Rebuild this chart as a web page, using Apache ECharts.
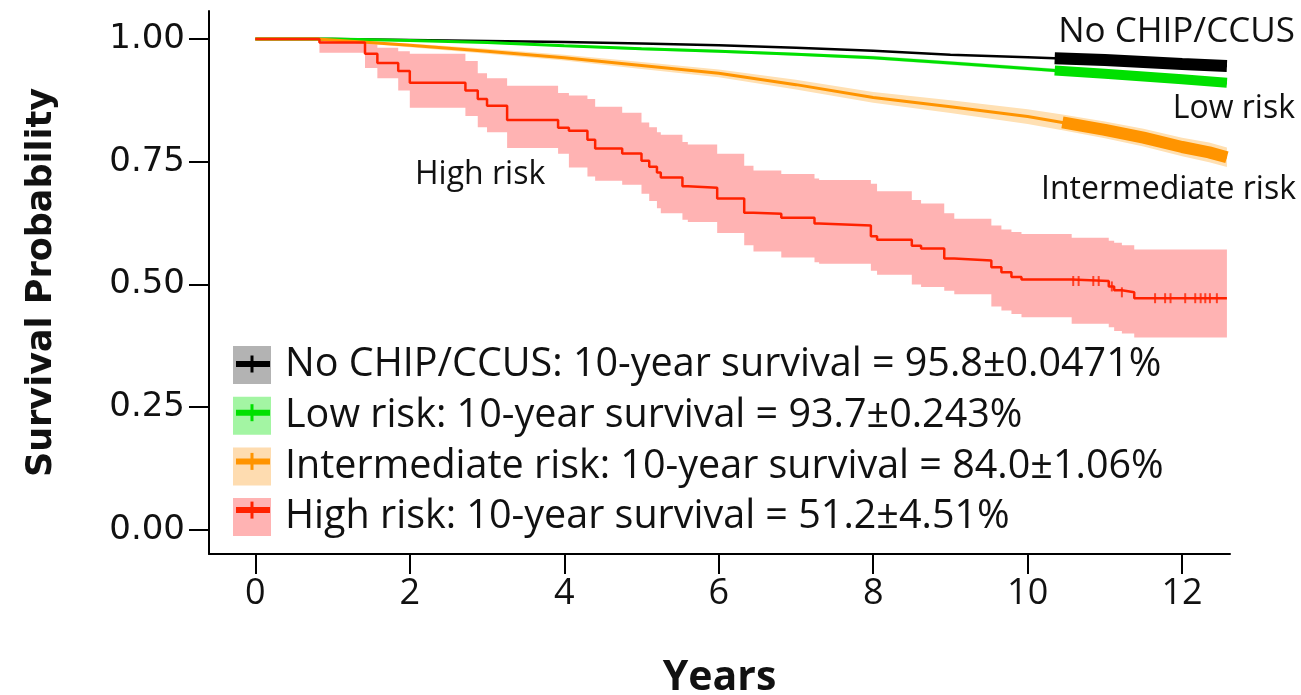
<!DOCTYPE html>
<html><head><meta charset="utf-8">
<script src="https://cdn.jsdelivr.net/npm/echarts@6/dist/echarts.min.js"></script>
<style>html,body{margin:0;padding:0;background:#fff}#c{width:1301px;height:695px}</style>
</head><body><div id="c"></div>
<script>
// ---- data ----
const xTicks = [0, 2, 4, 6, 8, 10, 12];
const yTicks = [0, 0.25, 0.5, 0.75, 1];
const yTickLabels = ['0.00', '0.25', '0.50', '0.75', '1.00'];
const legendNames = [
  'No CHIP/CCUS: 10-year survival = 95.8±0.0471%',
  'Low risk: 10-year survival = 93.7±0.243%',
  'Intermediate risk: 10-year survival = 84.0±1.06%',
  'High risk: 10-year survival = 51.2±4.51%'
];
const annotations = ['No CHIP/CCUS', 'Low risk', 'Intermediate risk', 'High risk'];

// No CHIP/CCUS
const noT = [0, 1, 2, 3, 4, 5, 6, 7, 8, 9, 10, 10.35, 11, 12, 12.58];
const noS = [1, 1, 0.998, 0.996, 0.994, 0.991, 0.987, 0.982, 0.976, 0.968, 0.963, 0.961, 0.957, 0.949, 0.945];
// Low risk
const lowT = [0, 1, 2, 3, 4, 5, 6, 7, 8, 9, 10, 10.35, 11, 12, 12.58];
const lowS = [1, 1, 0.997, 0.993, 0.986, 0.98, 0.975, 0.969, 0.962, 0.951, 0.94, 0.936, 0.929, 0.918, 0.911];
const lowLo = [1, 1, 0.996, 0.991, 0.984, 0.977, 0.972, 0.966, 0.958, 0.947, 0.936, 0.932, 0.925, 0.913, 0.906];
const lowHi = [1, 1, 0.998, 0.995, 0.988, 0.983, 0.978, 0.972, 0.966, 0.955, 0.944, 0.94, 0.933, 0.923, 0.916];
// Intermediate risk
const intT = [0, 0.8, 1, 2, 3, 4, 5, 6, 7, 8, 9, 10, 10.45, 11, 11.5, 12, 12.35, 12.58];
const intS = [1, 1, 0.998, 0.987, 0.975, 0.962, 0.946, 0.93, 0.907, 0.881, 0.862, 0.842, 0.83, 0.815, 0.799, 0.78, 0.769, 0.759];
const intLo = [1, 1, 0.996, 0.983, 0.97, 0.956, 0.939, 0.922, 0.897, 0.87, 0.849, 0.827, 0.814, 0.798, 0.781, 0.761, 0.749, 0.739];
const intHi = [1, 1, 1, 0.991, 0.98, 0.968, 0.953, 0.938, 0.917, 0.892, 0.875, 0.857, 0.846, 0.832, 0.817, 0.799, 0.789, 0.779];
// High risk (Kaplan-Meier steps)
const hiT = [0, 0.83, 1.42, 1.58, 1.85, 2.0, 2.72, 2.88, 3.0, 3.26, 3.92, 4.06, 4.3, 4.4, 4.75, 5.0, 5.1, 5.2, 5.25, 5.53, 5.6, 5.98, 6.33, 6.45, 6.81, 7.24, 7.3, 7.97, 8.05, 8.5, 8.62, 8.92, 9.05, 9.53, 9.66, 9.79, 9.92, 10.57, 11.05, 11.12, 11.22, 11.38, 12.58];
const hiS = [1, 0.993, 0.97, 0.951, 0.935, 0.911, 0.895, 0.878, 0.864, 0.835, 0.819, 0.813, 0.795, 0.777, 0.767, 0.752, 0.74, 0.728, 0.718, 0.70, 0.697, 0.675, 0.646, 0.644, 0.636, 0.624, 0.62, 0.598, 0.591, 0.579, 0.573, 0.553, 0.549, 0.535, 0.525, 0.515, 0.51, 0.507, 0.496, 0.488, 0.484, 0.472, 0.472];
const hiHi = [1, 1.0, 0.99, 0.982, 0.975, 0.97, 0.955, 0.93, 0.92, 0.905, 0.89, 0.885, 0.878, 0.862, 0.85, 0.83, 0.82, 0.81, 0.805, 0.79, 0.785, 0.766, 0.742, 0.732, 0.725, 0.716, 0.713, 0.705, 0.69, 0.672, 0.665, 0.645, 0.634, 0.62, 0.612, 0.607, 0.603, 0.595, 0.589, 0.585, 0.58, 0.571, 0.571];
const hiLo = [1, 0.972, 0.941, 0.92, 0.895, 0.86, 0.843, 0.82, 0.81, 0.778, 0.766, 0.738, 0.72, 0.711, 0.703, 0.685, 0.67, 0.655, 0.645, 0.632, 0.627, 0.605, 0.58, 0.567, 0.555, 0.545, 0.542, 0.528, 0.52, 0.5, 0.495, 0.487, 0.48, 0.455, 0.447, 0.44, 0.433, 0.42, 0.413, 0.405, 0.40, 0.392, 0.392];
const hiCensorT = [10.59, 10.66, 10.85, 10.92, 11.09, 11.22, 11.65, 11.78, 11.85, 12.04, 12.17, 12.24, 12.3, 12.36, 12.45];
// start of the densely censored stretch at the end of the follow-up
const denseStart = [10.35, 10.35, 10.45];

// ---- styles ----
const colors = ['#000000', '#00e000', '#ff9400', '#ff2200'];
const boxColors = ['#b3b3b3', '#a3f5a3', '#fedcb0', '#ffb3b3'];
const bandColors = ['#cccccc', '#b8f7b8', '#ffe0b3', '#ffb3b3'];
const G = {left: 209, right: 71, top: 11, bottom: 141};
const LEG = {left: 233, top: 345, pitch: 48.7, w: 38, h: 38};

const pairs = (T, V) => T.map((t, i) => [t, V[i]]);
const tail = (T, V, t0) => pairs(T, V).filter(p => p[0] >= t0);
const stepAt = (T, V, t) => { let v = V[0]; for (let i = 0; i < T.length; i++) { if (T[i] <= t) v = V[i]; } return v; };

// confidence band drawn as one polygon through the axis scales
function band(id, T, L, U, color, step) {
  return {
    name: id + 'Band', type: 'custom', silent: true, z: 1, clip: true,
    data: T.map((t, i) => [t, L[i], U[i]]),
    encode: {x: 0, y: [1, 2]},
    renderItem: function (params, api) {
      if (params.dataIndex !== 0) return null;
      const up = [], lo = [];
      for (let i = 0; i < T.length; i++) {
        if (step && i > 0) {
          up.push(api.coord([T[i], U[i - 1]]));
          lo.push(api.coord([T[i], L[i - 1]]));
        }
        up.push(api.coord([T[i], U[i]]));
        lo.push(api.coord([T[i], L[i]]));
      }
      return {type: 'polygon', shape: {points: up.concat(lo.reverse())}, style: {fill: color, stroke: null}};
    }
  };
}
function line(name, T, V, color, width, step) {
  return {name: name, type: 'line', data: pairs(T, V), step: step, symbol: 'none',
    lineStyle: {color: color, width: width}, itemStyle: {color: color}, z: 3};
}
function dense(name, T, V, t0, color, width) {
  return {name: name, type: 'line', data: tail(T, V, t0), symbol: 'none',
    lineStyle: {color: color, width: width, cap: 'butt'}, z: 4, silent: true};
}

const series = [
  band('hi', hiT, hiLo, hiHi, bandColors[3], true),
  band('int', intT, intLo, intHi, bandColors[2], false),
  band('low', lowT, lowLo, lowHi, bandColors[1], false),
  line(legendNames[0], noT, noS, colors[0], 2.5, false),
  line(legendNames[1], lowT, lowS, colors[1], 3, false),
  line(legendNames[2], intT, intS, colors[2], 3, false),
  dense('intCens', intT, intS, denseStart[2], colors[2], 12),
  dense('lowCens', lowT, lowS, denseStart[1], colors[1], 10),
  dense('noCens', noT, noS, denseStart[0], colors[0], 12),
  line(legendNames[3], hiT, hiS, colors[3], 2.5, 'end'),
  {name: 'hiCens', type: 'scatter', data: hiCensorT.map(t => [t, stepAt(hiT, hiS, t)]),
   symbol: 'rect', symbolSize: [2, 10], itemStyle: {color: colors[3]}, z: 5, silent: true}
];

const graphic = [];
legendNames.forEach((n, i) => {
  const cy = LEG.top + LEG.pitch * i + LEG.h / 2;
  graphic.push({type: 'rect', left: LEG.left + 3, top: cy - 3, z: 100,
    shape: {width: LEG.w - 4, height: 6}, style: {fill: colors[i]}});
  graphic.push({type: 'rect', left: LEG.left + LEG.w / 2 - 1.5, top: cy - 8.5, z: 100,
    shape: {width: 3, height: 17}, style: {fill: colors[i]}});
});
const annFont = {fontFamily: 'Open Sans', fontSize: 32, fill: '#111'};
graphic.push({type: 'text', right: 6, top: 15, style: Object.assign({text: annotations[0]}, annFont, {fontSize: 35})});
graphic.push({type: 'text', right: 6, top: 93, style: Object.assign({text: annotations[1]}, annFont)});
graphic.push({type: 'text', right: 5, top: 174, style: Object.assign({text: annotations[2]}, annFont)});
graphic.push({type: 'text', left: 415, top: 159, style: Object.assign({text: annotations[3]}, annFont)});

const chart = echarts.init(document.getElementById('c'), null, {renderer: 'canvas'});
chart.setOption({
  animation: false,
  backgroundColor: '#fff',
  grid: Object.assign({containLabel: false, outerBoundsMode: 'none'}, G),
  legend: {
    orient: 'vertical', left: LEG.left, top: LEG.top, padding: 0, itemWidth: LEG.w, itemHeight: LEG.h,
    itemGap: LEG.pitch - LEG.h, selectedMode: false,
    data: legendNames.map((n, i) => ({name: n, icon: 'rect', itemStyle: {color: boxColors[i], borderWidth: 0}})),
    textStyle: {fontFamily: 'Open Sans', fontSize: 39.5, color: '#111', lineHeight: 38, padding: [0, 0, 0, 9]}
  },
  xAxis: {
    type: 'value', min: -0.6, max: 12.62,
    axisLine: {show: true, onZero: false, lineStyle: {color: '#000', width: 2}},
    axisTick: {show: true, length: 20, customValues: xTicks, lineStyle: {color: '#000', width: 2}},
    axisLabel: {customValues: xTicks, fontFamily: 'Open Sans', fontSize: 36, color: '#111', margin: 22},
    splitLine: {show: false},
    name: 'Years', nameLocation: 'middle', nameGap: 104,
    nameTextStyle: {fontFamily: 'Open Sans', fontWeight: 'bold', fontSize: 41, color: '#111'}
  },
  yAxis: {
    type: 'value', min: -0.049, max: 1.057,
    axisLine: {show: true, onZero: false, lineStyle: {color: '#000', width: 2}},
    axisTick: {show: true, length: 20, customValues: yTicks, lineStyle: {color: '#000', width: 2}},
    axisLabel: {customValues: yTicks, formatter: v => yTickLabels[yTicks.indexOf(+v.toFixed(2))],
      fontFamily: 'DejaVu Sans', fontSize: 34, color: '#111', margin: 24},
    splitLine: {show: false},
    name: 'Survival Probability', nameLocation: 'middle', nameGap: 150,
    nameTextStyle: {fontFamily: 'DejaVu Sans', fontWeight: 'bold', fontSize: 35, color: '#111'}
  },
  graphic: graphic,
  series: series
});
</script></body></html>
